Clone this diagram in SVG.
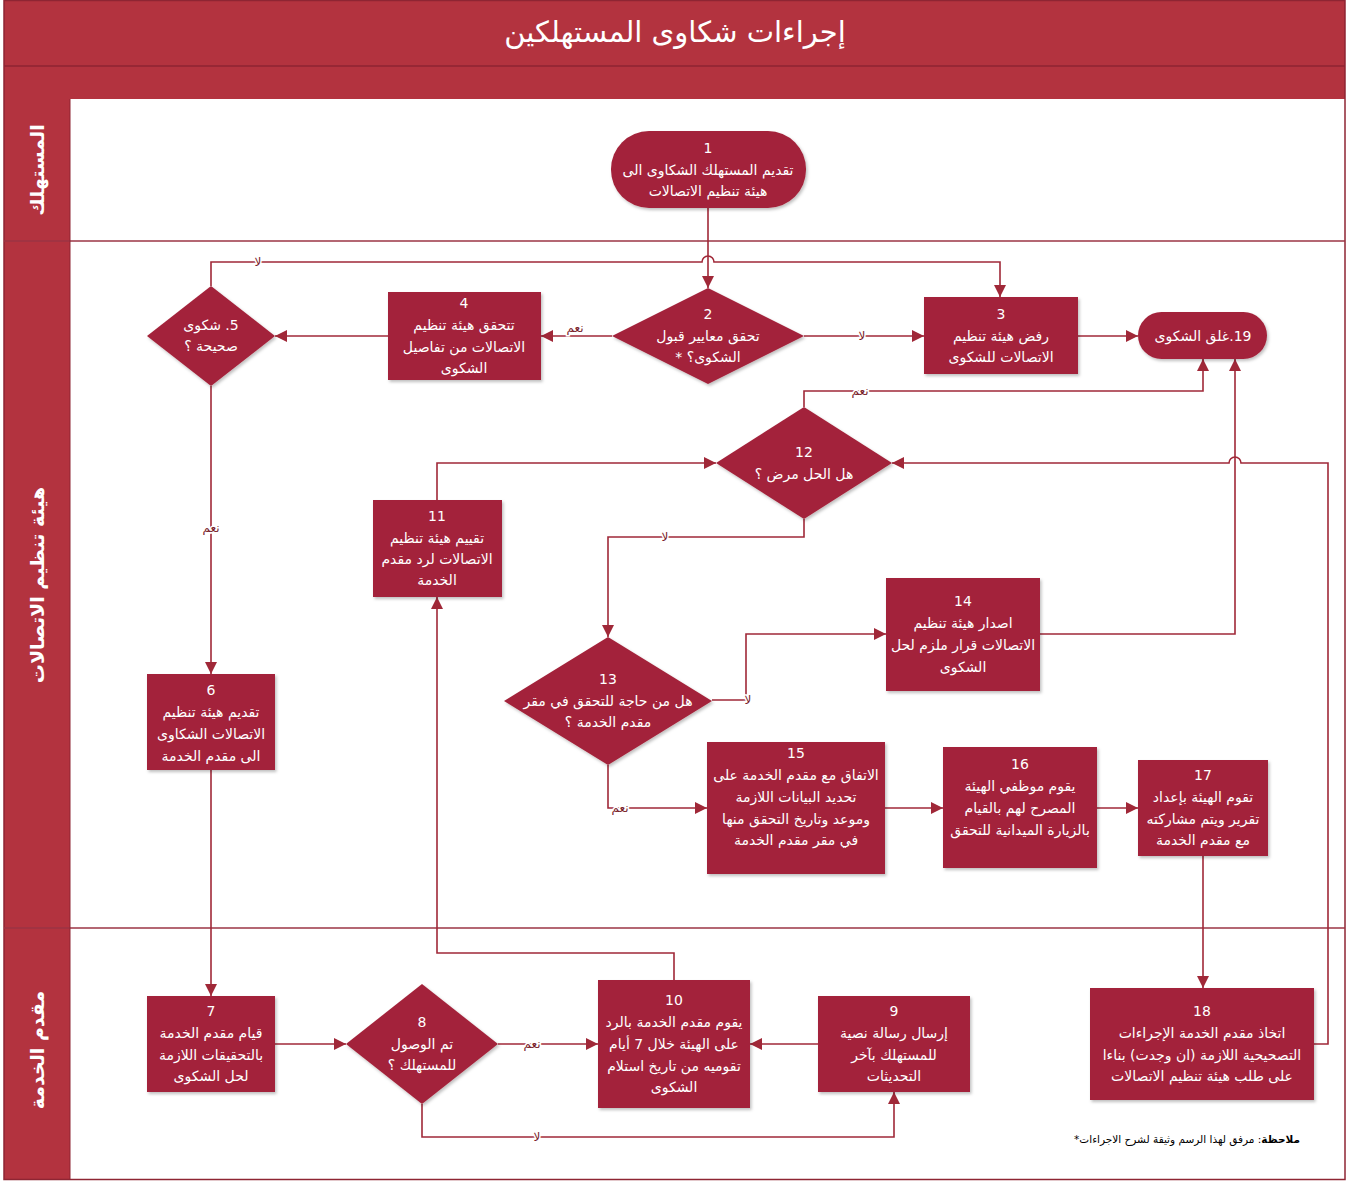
<svg xmlns="http://www.w3.org/2000/svg" width="1347" height="1181" viewBox="0 0 1347 1181">
<style>
.band{fill:#B3333F}
.node{fill:#A3233A}
.t{fill:#fff;font-family:"DejaVu Sans",sans-serif;font-size:14px;text-anchor:middle;direction:rtl;unicode-bidi:embed}
.lane{fill:#fff;font-family:"DejaVu Sans",sans-serif;font-size:19px;font-weight:bold;text-anchor:middle;direction:rtl;unicode-bidi:embed}
.title{fill:#fff;font-family:"DejaVu Sans",sans-serif;font-size:29px;text-anchor:middle;direction:rtl;unicode-bidi:embed}
.c{fill:none;stroke:#A02838;stroke-width:1.6}
.a{marker-end:url(#arr)}
.lbl{fill:#7a1e2c;font-family:"DejaVu Sans",sans-serif;font-size:12px;text-anchor:middle;direction:rtl;unicode-bidi:embed;stroke:#fff;stroke-width:3;paint-order:stroke}
.sep{stroke:#9B3545;stroke-width:1.5}
.note{font-family:"DejaVu Sans",sans-serif;font-size:10.5px;fill:#000;text-anchor:start;direction:rtl;unicode-bidi:embed}
</style>
<defs>
<marker id="arr" viewBox="0 0 10 10" refX="10" refY="5" markerWidth="12" markerHeight="12" markerUnits="userSpaceOnUse" orient="auto">
<path d="M0,0 L10,5 L0,10 z" fill="#A02838"/>
</marker>
<filter id="sh" x="-10%" y="-10%" width="130%" height="130%">
<feDropShadow dx="1.5" dy="2" stdDeviation="1.5" flood-color="#000" flood-opacity="0.25"/>
</filter>
</defs>

<!-- frame -->
<rect x="0" y="0" width="1347" height="1181" fill="#fff"/>
<rect x="4" y="0" width="1341" height="99" class="band"/>
<line x1="4" y1="66" x2="1345" y2="66" stroke="#8E2533" stroke-width="1.5"/>
<rect x="4" y="99" width="66" height="1081" class="band"/>
<rect x="4" y="0.5" width="1341" height="1179" fill="none" stroke="#8E2533" stroke-width="1.5"/>
<line x1="4" y1="241" x2="1345" y2="241" class="sep"/>
<line x1="4" y1="928" x2="1345" y2="928" class="sep"/>
<line x1="70" y1="99" x2="70" y2="1180" stroke="#8E2533" stroke-width="1"/>
<text class="title" x="675" y="42">إجراءات شكاوى المستهلكين</text>
<text class="lane" transform="translate(44,170) rotate(-90)">المستهلك</text>
<text class="lane" transform="translate(44,585) rotate(-90)">هيئة تنظيم الاتصالات</text>
<text class="lane" transform="translate(44,1050) rotate(-90)">مقدم الخدمة</text>

<!-- connectors -->
<g id="connectors">
<path class="c a" d="M708,208 L708,288"/>
<path class="c a" d="M211,286 L211,262 L702,262 A6,6 0 0 1 714,262 L1000,262 L1000,297"/>
<path class="c a" d="M804,336 L924,336"/>
<path class="c a" d="M612,336 L541,336"/>
<path class="c a" d="M388,336 L275,336"/>
<path class="c a" d="M1078,336 L1138,336"/>
<path class="c a" d="M211,386 L211,674"/>
<path class="c a" d="M211,770 L211,996"/>
<path class="c a" d="M275,1044 L346,1044"/>
<path class="c a" d="M498,1044 L598,1044"/>
<path class="c a" d="M422,1104 L422,1137 L894,1137 L894,1092"/>
<path class="c a" d="M818,1044 L750,1044"/>
<path class="c a" d="M674,980 L674,953 L437,953 L437,597"/>
<path class="c a" d="M437,500 L437,463 L716,463"/>
<path class="c a" d="M804,407 L804,391 L1203,391 L1203,359"/>
<path class="c a" d="M804,519 L804,537 L608,537 L608,637"/>
<path class="c a" d="M712,700 L746,700 L746,634 L886,634"/>
<path class="c a" d="M608,765 L608,808 L707,808"/>
<path class="c a" d="M1040,634 L1235,634 L1235,359"/>
<path class="c a" d="M885,808 L943,808"/>
<path class="c a" d="M1097,808 L1138,808"/>
<path class="c a" d="M1203,856 L1203,988"/>
<path class="c a" d="M1314,1044 L1328,1044 L1328,463 L1241,463 A6,6 0 0 0 1229,463 L892,463"/>
<text class="lbl" x="258" y="266">لا</text>
<text class="lbl" x="862" y="340">لا</text>
<text class="lbl" x="575" y="332">نعم</text>
<text class="lbl" x="211" y="532">نعم</text>
<text class="lbl" x="532" y="1048">نعم</text>
<text class="lbl" x="537" y="1141">لا</text>
<text class="lbl" x="860" y="395">نعم</text>
<text class="lbl" x="665" y="541">لا</text>
<text class="lbl" x="748" y="704">لا</text>
<text class="lbl" x="620" y="812">نعم</text>
</g>

<!-- nodes -->
<g id="n1"><rect class="node" filter="url(#sh)" x="611" y="131" width="195" height="77" rx="38"/>
<text class="t" x="708" y="153">1</text><text class="t" x="708" y="175">تقديم المستهلك الشكاوى الى</text><text class="t" x="708" y="196">هيئة تنظيم الاتصالات</text></g>

<g id="n2"><polygon class="node" filter="url(#sh)" points="708,288 804,336 708,384 612,336"/>
<text class="t" x="708" y="319">2</text><text class="t" x="708" y="341">تحقق معايير قبول</text><text class="t" x="708" y="362">الشكوى؟ *</text></g>

<g id="n3"><rect class="node" filter="url(#sh)" x="924" y="297" width="154" height="77"/>
<text class="t" x="1001" y="319">3</text><text class="t" x="1001" y="341">رفض هيئة تنظيم</text><text class="t" x="1001" y="362">الاتصالات للشكوى</text></g>

<g id="n19"><rect class="node" filter="url(#sh)" x="1138" y="312" width="129" height="47" rx="23.5"/>
<text class="t" x="1203" y="341">19.غلق الشكوى</text></g>

<g id="n4"><rect class="node" filter="url(#sh)" x="388" y="292" width="153" height="88"/>
<text class="t" x="464" y="308">4</text><text class="t" x="464" y="330">تتحقق هيئة تنظيم</text><text class="t" x="464" y="352">الاتصالات من تفاصيل</text><text class="t" x="464" y="373">الشكوى</text></g>

<g id="n5"><polygon class="node" filter="url(#sh)" points="211,286 275,336 211,386 147,336"/>
<text class="t" x="211" y="330">5. شكوى</text><text class="t" x="211" y="351">صحيحة ؟</text></g>

<g id="n6"><rect class="node" filter="url(#sh)" x="147" y="674" width="128" height="96"/>
<text class="t" x="211" y="695">6</text><text class="t" x="211" y="717">تقديم هيئة تنظيم</text><text class="t" x="211" y="739">الاتصالات الشكاوى</text><text class="t" x="211" y="761">الى مقدم الخدمة</text></g>

<g id="n7"><rect class="node" filter="url(#sh)" x="147" y="996" width="128" height="96"/>
<text class="t" x="211" y="1016">7</text><text class="t" x="211" y="1038">قيام مقدم الخدمة</text><text class="t" x="211" y="1060">بالتحقيقات اللازمة</text><text class="t" x="211" y="1081">لحل الشكوى</text></g>

<g id="n8"><polygon class="node" filter="url(#sh)" points="422,984 498,1044 422,1104 346,1044"/>
<text class="t" x="422" y="1027">8</text><text class="t" x="422" y="1049">تم الوصول</text><text class="t" x="422" y="1070">للمستهلك ؟</text></g>

<g id="n9"><rect class="node" filter="url(#sh)" x="818" y="996" width="152" height="96"/>
<text class="t" x="894" y="1016">9</text><text class="t" x="894" y="1038">إرسال رسالة نصية</text><text class="t" x="894" y="1060">للمستهلك بآخر</text><text class="t" x="894" y="1081">التحديثات</text></g>

<g id="n10"><rect class="node" filter="url(#sh)" x="598" y="980" width="152" height="128"/>
<text class="t" x="674" y="1005">10</text><text class="t" x="674" y="1027">يقوم مقدم الخدمة بالرد</text><text class="t" x="674" y="1049">على الهيئة خلال 7 أيام</text><text class="t" x="674" y="1071">تقوميه من تاريخ استلام</text><text class="t" x="674" y="1092">الشكوى</text></g>

<g id="n11"><rect class="node" filter="url(#sh)" x="373" y="500" width="129" height="97"/>
<text class="t" x="437" y="521">11</text><text class="t" x="437" y="543">تقييم هيئة تنظيم</text><text class="t" x="437" y="564">الاتصالات لرد مقدم</text><text class="t" x="437" y="585">الخدمة</text></g>

<g id="n12"><polygon class="node" filter="url(#sh)" points="804,407 892,463 804,519 716,463"/>
<text class="t" x="804" y="457">12</text><text class="t" x="804" y="479">هل الحل مرض ؟</text></g>

<g id="n13"><polygon class="node" filter="url(#sh)" points="608,637 712,701 608,765 504,701"/>
<text class="t" x="608" y="684">13</text><text class="t" x="608" y="706">هل من حاجة للتحقق في مقر</text><text class="t" x="608" y="727">مقدم الخدمة ؟</text></g>

<g id="n14"><rect class="node" filter="url(#sh)" x="886" y="578" width="154" height="113"/>
<text class="t" x="963" y="606">14</text><text class="t" x="963" y="628">اصدار هيئة تنظيم</text><text class="t" x="963" y="650">الاتصالات قرار ملزم لحل</text><text class="t" x="963" y="672">الشكوى</text></g>

<g id="n15"><rect class="node" filter="url(#sh)" x="707" y="742" width="178" height="132"/>
<text class="t" x="796" y="758">15</text><text class="t" x="796" y="780">الاتفاق مع مقدم الخدمة على</text><text class="t" x="796" y="802">تحديد البيانات اللازمة</text><text class="t" x="796" y="824">وموعد وتاريخ التحقق منها</text><text class="t" x="796" y="845">في مقر مقدم الخدمة</text></g>

<g id="n16"><rect class="node" filter="url(#sh)" x="943" y="747" width="154" height="121"/>
<text class="t" x="1020" y="769">16</text><text class="t" x="1020" y="791">يقوم موظفي الهيئة</text><text class="t" x="1020" y="813">المصرح لهم بالقيام</text><text class="t" x="1020" y="835">بالزيارة الميدانية للتحقق</text></g>

<g id="n17"><rect class="node" filter="url(#sh)" x="1138" y="760" width="130" height="96"/>
<text class="t" x="1203" y="780">17</text><text class="t" x="1203" y="802">تقوم الهيئة بإعداد</text><text class="t" x="1203" y="824">تقرير ويتم مشاركته</text><text class="t" x="1203" y="845">مع مقدم الخدمة</text></g>

<g id="n18"><rect class="node" filter="url(#sh)" x="1090" y="988" width="224" height="112"/>
<text class="t" x="1202" y="1016">18</text><text class="t" x="1202" y="1038">اتخاذ مقدم الخدمة الإجراءات</text><text class="t" x="1202" y="1060">التصحيحية اللازمة (ان وجدت)  بناءا</text><text class="t" x="1202" y="1081">على طلب هيئة تنظيم الاتصالات</text></g>

<g id="note"><text class="note" x="1300" y="1143"><tspan font-weight="bold">ملاحظة</tspan><tspan>: مرفق لهذا الرسم وثيقة لشرح الاجراءات*</tspan></text></g>
</svg>
